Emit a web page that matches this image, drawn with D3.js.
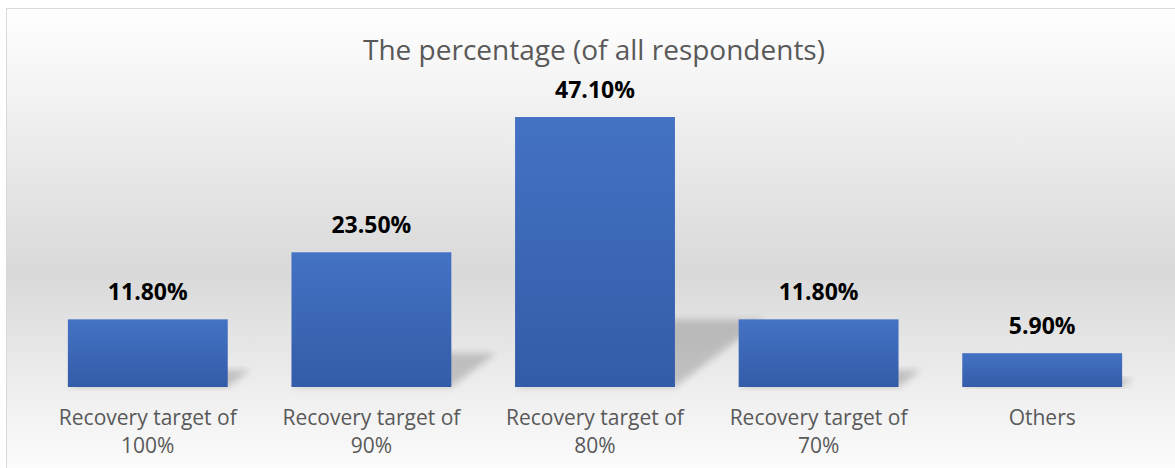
<!DOCTYPE html>
<html>
<head>
<meta charset="utf-8">
<script src="https://cdn.jsdelivr.net/npm/d3@7"></script>
<style>
  body { margin: 0; background: #fff; }
  text { font-family: "Open Sans", "Noto Sans", sans-serif; }
</style>
</head>
<body>
<svg id="chart"></svg>
<script>
// データ
const categories = [
    ["Recovery target of", "100%"],
    ["Recovery target of", "90%"],
    ["Recovery target of", "80%"],
    ["Recovery target of", "70%"],
    ["Others"]
];
const values = [11.8, 23.5, 47.1, 11.8, 5.9];
const valueLabels = ["11.80%", "23.50%", "47.10%", "11.80%", "5.90%"];
const title = "The percentage (of all respondents)";

const width = 1175;
const height = 468;
const baseY = 387;

var svg = d3.select("#chart")
            .attr("width", width)
            .attr("height", height);

var defs = svg.append("defs");

// 背景グラデーション
var bg = defs.append("linearGradient")
            .attr("id", "bgGrad")
            .attr("x1", 0).attr("y1", 0).attr("x2", 0).attr("y2", 1);
bg.append("stop").attr("offset", "0%").attr("stop-color", "#ffffff");
bg.append("stop").attr("offset", "55%").attr("stop-color", "#d9d9d9");
bg.append("stop").attr("offset", "100%").attr("stop-color", "#ffffff");

// 棒のグラデーション
var barGrad = defs.append("linearGradient")
            .attr("id", "barGrad")
            .attr("x1", 0).attr("y1", 0).attr("x2", 0).attr("y2", 1);
barGrad.append("stop").attr("offset", "0%").attr("stop-color", "#4472c4");
barGrad.append("stop").attr("offset", "100%").attr("stop-color", "#335ca8");

defs.append("filter")
    .attr("id", "blur")
    .attr("x", "-20%").attr("y", "-20%").attr("width", "140%").attr("height", "140%")
    .append("feGaussianBlur")
    .attr("stdDeviation", 3.5);

svg.append("rect")
    .attr("x", 6.5).attr("y", 8.5)
    .attr("width", width + 10).attr("height", height + 10)
    .style("fill", "url(#bgGrad)")
    .style("stroke", "#d9d9d9")
    .style("stroke-width", 1);

var x = d3.scaleBand()
            .domain(d3.range(categories.length))
            .range([36, 1154])
            .paddingInner(0.285)
            .paddingOuter(0.1425);

var y = d3.scaleLinear()
            .domain([0, 47.1])
            .range([baseY, 117]);

// 影
svg.append("g")
    .selectAll("path")
    .data(values)
    .enter().append("path")
    .attr("d", function(d, i) {
        var h = baseY - y(d);
        var x0 = x(i), x1 = x(i) + x.bandwidth();
        var dx = h * 0.33, dy = h * 0.25;
        return "M" + x0 + "," + baseY + "L" + x1 + "," + baseY +
               "L" + (x1 + dx) + "," + (baseY - dy) + "L" + (x0 + dx) + "," + (baseY - dy) + "Z";
    })
    .style("fill", "#000")
    .style("opacity", 0.18)
    .attr("filter", "url(#blur)");

// 棒
svg.append("g")
    .selectAll("rect")
    .data(values)
    .enter().append("rect")
    .attr("x", function(d, i) {return x(i);})
    .attr("y", function(d) {return y(d);})
    .attr("width", x.bandwidth())
    .attr("height", function(d) {return baseY - y(d);})
    .style("fill", "url(#barGrad)");

// 値ラベル
svg.append("g")
    .selectAll("text")
    .data(values)
    .enter().append("text")
    .attr("x", function(d, i) {return x(i) + x.bandwidth() / 2;})
    .attr("y", function(d) {return y(d) - 19;})
    .attr("text-anchor", "middle")
    .style("font-size", "23px")
    .style("font-weight", "bold")
    .style("fill", "#000")
    .text(function(d, i) {return valueLabels[i];});

// カテゴリラベル
var cat = svg.append("g")
    .selectAll("text")
    .data(categories)
    .enter().append("text")
    .attr("x", function(d, i) {return x(i) + x.bandwidth() / 2;})
    .attr("y", baseY + 38)
    .attr("text-anchor", "middle")
    .style("font-size", "21px")
    .style("fill", "#595959");

cat.selectAll("tspan")
    .data(function(d) {return d;})
    .enter().append("tspan")
    .attr("x", function() {return d3.select(this.parentNode).attr("x");})
    .attr("dy", function(d, j) {return j === 0 ? 0 : 28;})
    .text(function(d) {return d;});

// タイトル
svg.append("text")
    .attr("x", 594)
    .attr("y", 60)
    .attr("text-anchor", "middle")
    .style("font-size", "28px")
    .style("fill", "#595959")
    .text(title);
</script>
</body>
</html>
